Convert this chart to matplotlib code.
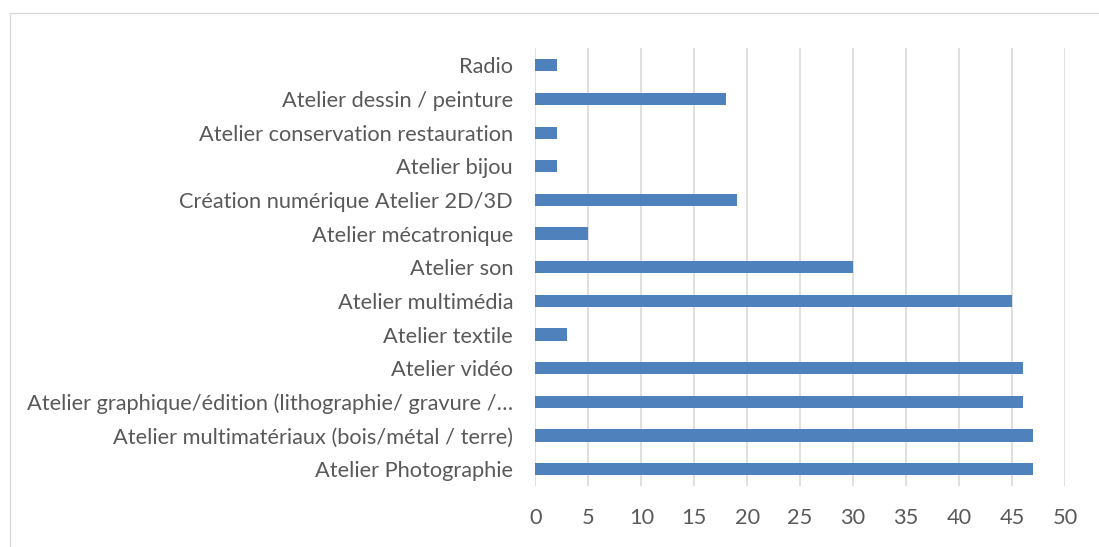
import matplotlib.pyplot as plt
from matplotlib.patches import Rectangle

categories = [
    "Atelier Photographie",
    "Atelier multimatériaux (bois/métal / terre)",
    "Atelier graphique/édition (lithographie/ gravure /…",
    "Atelier vidéo",
    "Atelier textile",
    "Atelier multimédia",
    "Atelier son",
    "Atelier mécatronique",
    "Création numérique Atelier 2D/3D",
    "Atelier bijou",
    "Atelier conservation restauration",
    "Atelier dessin / peinture",
    "Radio",
]
values = [47, 47, 46, 46, 3, 45, 30, 5, 19, 2, 2, 18, 2]
x_ticks = [0, 5, 10, 15, 20, 25, 30, 35, 40, 45, 50]

plt.rcParams['font.family'] = ['Lato', 'DejaVu Sans']

fig = plt.figure(figsize=(10.99, 5.47), dpi=100)
ax = fig.add_axes([0.4871, 0.1115, 0.482, 0.800])

ax.barh(range(len(categories)), values, height=0.36, color='#4F81BD', zorder=3)
ax.set_yticks(range(len(categories)))
ax.set_yticklabels(categories)
ax.set_ylim(-0.5, len(categories) - 0.5)
ax.set_xlim(0, 50)
ax.set_xticks(x_ticks)

ax.grid(axis='x', color='#D9D9D9', linewidth=1.2, zorder=0)
for s in ax.spines.values():
    s.set_visible(False)
ax.tick_params(axis='both', length=0, labelsize=15.7, labelcolor='#595959')
ax.tick_params(axis='y', pad=16)
ax.tick_params(axis='x', pad=16)

fig.patches.append(Rectangle((10 / 1099, -0.05), 1.2, 1 - 13 / 547 + 0.05,
                             transform=fig.transFigure, fill=False,
                             edgecolor='#D9D9D9', linewidth=1))

fig.savefig("out.png", dpi=100)
